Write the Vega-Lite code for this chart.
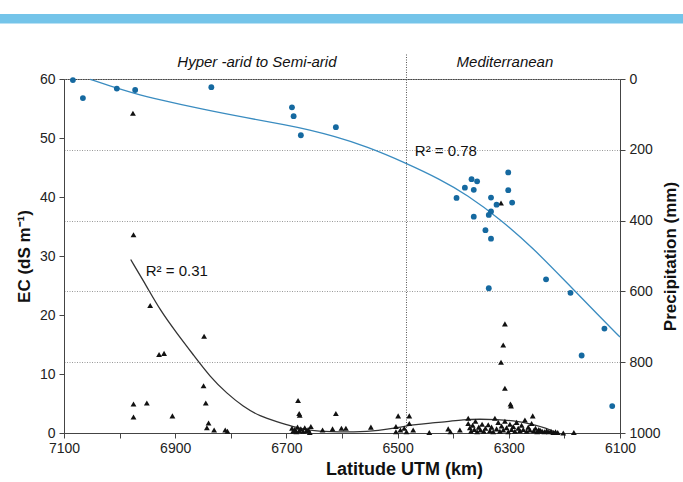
{
  "$schema": "https://vega.github.io/schema/vega-lite/v6.json",
  "width": 556,
  "height": 354,
  "autosize": {"type": "none"},
  "padding": {"left": 64, "top": 79, "right": 63, "bottom": 49},
  "background": "white",
  "config": {
    "font": "Liberation Sans",
    "view": {"stroke": "#444", "strokeWidth": 1},
    "axis": {
      "labelFont": "Liberation Sans",
      "labelFontSize": 14,
      "labelColor": "#222",
      "titleFont": "Liberation Sans",
      "titleFontSize": 17,
      "titleFontWeight": "bold",
      "titleColor": "#111",
      "domainColor": "#444",
      "tickColor": "#444",
      "tickSize": 5,
      "grid": false
    }
  },
  "datasets": {
    "ec": [
      {"lat": 6976, "ec": 54.2}, {"lat": 6975, "ec": 33.6}, {"lat": 6945, "ec": 21.6}, {"lat": 6929, "ec": 13.3},
      {"lat": 6920, "ec": 13.5}, {"lat": 6848, "ec": 16.4}, {"lat": 6849, "ec": 8.0}, {"lat": 6845, "ec": 5.1},
      {"lat": 6975, "ec": 4.9}, {"lat": 6975, "ec": 2.7}, {"lat": 6951, "ec": 5.1}, {"lat": 6905, "ec": 2.9},
      {"lat": 6840, "ec": 1.7}, {"lat": 6843, "ec": 0.9}, {"lat": 6830, "ec": 0.5}, {"lat": 6810, "ec": 0.5},
      {"lat": 6806, "ec": 0.3},
      {"lat": 6679, "ec": 5.5}, {"lat": 6677, "ec": 3.3}, {"lat": 6676, "ec": 3.0},
      {"lat": 6690, "ec": 0.8}, {"lat": 6688, "ec": 0.3}, {"lat": 6685, "ec": 0.6}, {"lat": 6682, "ec": 0.2},
      {"lat": 6680, "ec": 1.0}, {"lat": 6677, "ec": 0.4}, {"lat": 6674, "ec": 0.7}, {"lat": 6670, "ec": 0.3},
      {"lat": 6667, "ec": 0.9}, {"lat": 6664, "ec": 0.4}, {"lat": 6661, "ec": 0.6}, {"lat": 6656, "ec": 1.1},
      {"lat": 6658, "ec": 0.1}, {"lat": 6635, "ec": 0.5}, {"lat": 6617, "ec": 0.7}, {"lat": 6611, "ec": 3.3},
      {"lat": 6601, "ec": 0.8}, {"lat": 6593, "ec": 0.8}, {"lat": 6548, "ec": 1.0},
      {"lat": 6499, "ec": 2.9}, {"lat": 6479, "ec": 2.9}, {"lat": 6479, "ec": 1.6}, {"lat": 6503, "ec": 1.1},
      {"lat": 6503, "ec": 0.2}, {"lat": 6495, "ec": 0.5}, {"lat": 6472, "ec": 0.5}, {"lat": 6484, "ec": 0.2},
      {"lat": 6488, "ec": 0.8}, {"lat": 6443, "ec": 0.1}, {"lat": 6409, "ec": 0.7}, {"lat": 6405, "ec": 0.2},
      {"lat": 6388, "ec": 0.5},
      {"lat": 6373, "ec": 2.5}, {"lat": 6373, "ec": 1.6}, {"lat": 6370, "ec": 0.9}, {"lat": 6368, "ec": 0.3},
      {"lat": 6365, "ec": 1.3}, {"lat": 6362, "ec": 0.6}, {"lat": 6360, "ec": 2.0}, {"lat": 6357, "ec": 0.2},
      {"lat": 6354, "ec": 1.0}, {"lat": 6351, "ec": 0.5}, {"lat": 6348, "ec": 1.5}, {"lat": 6345, "ec": 0.3},
      {"lat": 6342, "ec": 0.8}, {"lat": 6337, "ec": 1.4}, {"lat": 6334, "ec": 0.4}, {"lat": 6331, "ec": 1.0},
      {"lat": 6328, "ec": 0.2}, {"lat": 6325, "ec": 2.5}, {"lat": 6322, "ec": 0.7}, {"lat": 6319, "ec": 1.8},
      {"lat": 6316, "ec": 0.3}, {"lat": 6313, "ec": 1.2}, {"lat": 6310, "ec": 0.5}, {"lat": 6307, "ec": 2.0},
      {"lat": 6304, "ec": 0.9}, {"lat": 6301, "ec": 0.2}, {"lat": 6298, "ec": 1.5}, {"lat": 6295, "ec": 0.6},
      {"lat": 6292, "ec": 1.1}, {"lat": 6289, "ec": 0.3}, {"lat": 6286, "ec": 1.8}, {"lat": 6283, "ec": 0.8},
      {"lat": 6280, "ec": 0.4}, {"lat": 6277, "ec": 1.3}, {"lat": 6274, "ec": 0.6}, {"lat": 6271, "ec": 2.2},
      {"lat": 6268, "ec": 0.3}, {"lat": 6265, "ec": 1.0}, {"lat": 6262, "ec": 0.5}, {"lat": 6259, "ec": 1.6},
      {"lat": 6257, "ec": 2.9}, {"lat": 6255, "ec": 0.4}, {"lat": 6252, "ec": 0.8}, {"lat": 6249, "ec": 0.2},
      {"lat": 6246, "ec": 0.6}, {"lat": 6243, "ec": 0.4}, {"lat": 6240, "ec": 0.3}, {"lat": 6236, "ec": 0.2},
      {"lat": 6232, "ec": 0.4}, {"lat": 6228, "ec": 0.2}, {"lat": 6224, "ec": 0.3}, {"lat": 6220, "ec": 0.1},
      {"lat": 6216, "ec": 0.2}, {"lat": 6212, "ec": 0.1}, {"lat": 6202, "ec": 0.0}, {"lat": 6183, "ec": 0.1},
      {"lat": 6314, "ec": 39.0}, {"lat": 6307, "ec": 18.5}, {"lat": 6310, "ec": 14.9}, {"lat": 6314, "ec": 12.0},
      {"lat": 6307, "ec": 7.6}, {"lat": 6297, "ec": 4.9}, {"lat": 6296, "ec": 4.6}
    ],
    "ecfit": [
      {"lat": 6980, "ec": 29.4}, {"lat": 6951, "ec": 24.8}, {"lat": 6927, "ec": 20.8}, {"lat": 6897, "ec": 16.9},
      {"lat": 6867, "ec": 13.2}, {"lat": 6837, "ec": 9.5}, {"lat": 6807, "ec": 6.7}, {"lat": 6778, "ec": 4.5},
      {"lat": 6747, "ec": 2.8}, {"lat": 6717, "ec": 1.9}, {"lat": 6690, "ec": 1.1}, {"lat": 6658, "ec": 0.4},
      {"lat": 6620, "ec": 0.2}, {"lat": 6580, "ec": 0.15}, {"lat": 6532, "ec": 0.4}, {"lat": 6500, "ec": 0.9},
      {"lat": 6472, "ec": 1.4}, {"lat": 6440, "ec": 1.7}, {"lat": 6412, "ec": 1.9}, {"lat": 6382, "ec": 2.3},
      {"lat": 6352, "ec": 2.35}, {"lat": 6322, "ec": 2.3}, {"lat": 6292, "ec": 2.1}, {"lat": 6262, "ec": 1.6},
      {"lat": 6232, "ec": 0.8}, {"lat": 6215, "ec": 0.1}
    ],
    "precip": [
      {"lat": 7084, "p": 3}, {"lat": 7066, "p": 54}, {"lat": 7005, "p": 27}, {"lat": 6972, "p": 31},
      {"lat": 6835, "p": 23}, {"lat": 6690, "p": 80}, {"lat": 6687, "p": 105}, {"lat": 6674, "p": 159},
      {"lat": 6611, "p": 136}, {"lat": 6394, "p": 336}, {"lat": 6379, "p": 307}, {"lat": 6367, "p": 283},
      {"lat": 6357, "p": 289}, {"lat": 6363, "p": 313}, {"lat": 6301, "p": 264}, {"lat": 6301, "p": 314},
      {"lat": 6294, "p": 349}, {"lat": 6332, "p": 335}, {"lat": 6322, "p": 355}, {"lat": 6332, "p": 374},
      {"lat": 6336, "p": 384}, {"lat": 6363, "p": 389}, {"lat": 6342, "p": 427}, {"lat": 6332, "p": 451},
      {"lat": 6336, "p": 591}, {"lat": 6233, "p": 566}, {"lat": 6189, "p": 604}, {"lat": 6128, "p": 705},
      {"lat": 6169, "p": 781}, {"lat": 6114, "p": 924}
    ],
    "pfit": [
      {"lat": 7053, "p": 1}, {"lat": 7017, "p": 20}, {"lat": 6975, "p": 40}, {"lat": 6930, "p": 58},
      {"lat": 6850, "p": 86}, {"lat": 6771, "p": 110}, {"lat": 6700, "p": 130}, {"lat": 6658, "p": 144},
      {"lat": 6616, "p": 161}, {"lat": 6556, "p": 190}, {"lat": 6484, "p": 238}, {"lat": 6424, "p": 283},
      {"lat": 6376, "p": 326}, {"lat": 6316, "p": 395}, {"lat": 6256, "p": 478}, {"lat": 6196, "p": 575},
      {"lat": 6136, "p": 672}, {"lat": 6100, "p": 729}
    ],
    "labels": [
      {"lat": 6753, "ec": 62.9, "t": "Hyper -arid to Semi-arid"},
      {"lat": 6307, "ec": 62.9, "t": "Mediterranean"}
    ],
    "r2": [
      {"lat": 6469, "ec": 47.8, "t": "R² = 0.78"},
      {"lat": 6953, "ec": 27.5, "t": "R² = 0.31"}
    ],
    "divider": [{"lat": 6484, "y0": 0, "y1": 64.4}],
    "band": [{"x0": 7216, "x1": 5985, "y0": 71.0, "y1": 69.4}]
  },
  "layer": [
    {
      "layer": [
        {
          "data": {"name": "band"},
          "mark": {"type": "rect", "color": "#74c4e9", "clip": false},
          "encoding": {
            "x": {"field": "x0", "type": "quantitative", "scale": {"domain": [6100, 7100], "reverse": true, "nice": false, "zero": false},
              "axis": {"values": [6100, 6200, 6300, 6400, 6500, 6600, 6700, 6800, 6900, 7000, 7100], "format": "d",
                "labelExpr": "datum.value % 200 === 100 ? datum.label : ''", "title": "Latitude UTM (km)", "titleFontSize": 18, "titleX": 340, "titlePadding": 5, "labelPadding": 3, "labelFlush": false}},
            "x2": {"field": "x1"},
            "y": {"field": "y0", "type": "quantitative", "scale": {"domain": [0, 60], "nice": false, "zero": true},
              "axis": {"values": [0, 5, 10, 15, 20, 25, 30, 35, 40, 45, 50, 55, 60],
                "labelExpr": "datum.value % 10 === 0 ? datum.label : ''", "title": "EC (dS m⁻¹)", "titlePadding": 6, "labelPadding": 4, "labelFlush": false}},
            "y2": {"field": "y1"}
          }
        },
        {
          "data": {"name": "divider"},
          "mark": {"type": "rule", "color": "#555", "strokeDash": [1, 1.5], "strokeWidth": 1, "clip": false},
          "encoding": {
            "x": {"field": "lat", "type": "quantitative"},
            "y": {"field": "y0", "type": "quantitative"},
            "y2": {"field": "y1"}
          }
        },
        {
          "data": {"name": "ecfit"},
          "mark": {"type": "line", "color": "#333", "strokeWidth": 1.3, "interpolate": "basis"},
          "encoding": {
            "x": {"field": "lat", "type": "quantitative"},
            "y": {"field": "ec", "type": "quantitative"}
          }
        },
        {
          "data": {"name": "ec"},
          "mark": {"type": "point", "shape": "triangle-up", "filled": true, "color": "#111", "size": 34, "opacity": 1},
          "encoding": {
            "x": {"field": "lat", "type": "quantitative"},
            "y": {"field": "ec", "type": "quantitative"}
          }
        },
        {
          "data": {"name": "labels"},
          "mark": {"type": "text", "fontSize": 15, "fontStyle": "italic", "color": "#111", "align": "center", "baseline": "middle", "clip": false},
          "encoding": {
            "x": {"field": "lat", "type": "quantitative"},
            "y": {"field": "ec", "type": "quantitative"},
            "text": {"field": "t"}
          }
        },
        {
          "data": {"name": "r2"},
          "mark": {"type": "text", "fontSize": 15, "color": "#111", "align": "left", "baseline": "middle"},
          "encoding": {
            "x": {"field": "lat", "type": "quantitative"},
            "y": {"field": "ec", "type": "quantitative"},
            "text": {"field": "t"}
          }
        }
      ]
    },
    {
      "layer": [
        {
          "data": {"name": "pfit"},
          "mark": {"type": "line", "color": "#3a8cc0", "strokeWidth": 1.3, "interpolate": "basis"},
          "encoding": {
            "x": {"field": "lat", "type": "quantitative"},
            "y": {"field": "p", "type": "quantitative", "scale": {"domain": [0, 1000], "reverse": true, "nice": false},
              "axis": {"orient": "right", "values": [0, 200, 400, 600, 800, 1000], "format": "d", "grid": true, "gridDash": [1, 1.5], "gridColor": "#999", "gridWidth": 1,
                "title": "Precipitation (mm)", "titleAngle": 270, "titleBaseline": "top", "titlePadding": 2, "labelPadding": 4, "labelFlush": false}}
          }
        },
        {
          "data": {"name": "precip"},
          "mark": {"type": "circle", "color": "#1569a0", "size": 34, "opacity": 1},
          "encoding": {
            "x": {"field": "lat", "type": "quantitative"},
            "y": {"field": "p", "type": "quantitative"}
          }
        }
      ]
    }
  ],
  "resolve": {"scale": {"y": "independent"}, "axis": {"y": "independent"}}
}
